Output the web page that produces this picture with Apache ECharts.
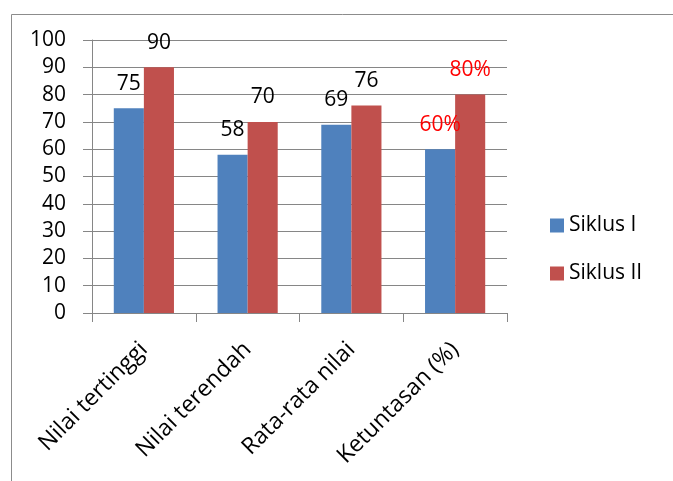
<!DOCTYPE html>
<html><head><meta charset="utf-8">
<script src="https://cdn.jsdelivr.net/npm/echarts@6/dist/echarts.min.js"></script>
<style>html,body{margin:0;padding:0;background:#fff}#c{width:673px;height:481px}</style>
</head><body><div id="c"></div>
<script>
var categories = ['Nilai tertinggi', 'Nilai terendah', 'Rata-rata nilai', 'Ketuntasan (%)'];
var siklus1 = [75, 58, 69, 60];
var siklus2 = [90, 70, 76, 80];
var seriesNames = ['Siklus I', 'Siklus II'];
var yTicks = [0, 10, 20, 30, 40, 50, 60, 70, 80, 90, 100];

var FONT = '"Open Sans", sans-serif';
function labelFor() {
  return {
    show: true, position: 'top', distance: 14, color: '#000',
    fontFamily: FONT, fontSize: 21,
    formatter: function (p) { return p.dataIndex === 3 ? p.value + '%' : '' + p.value; }
  };
}
function makeData(arr) {
  return arr.map(function (v, i) {
    var d = { value: v };
    if (i === 3) d.label = { color: '#ff0000' };
    return d;
  });
}
var chart = echarts.init(document.getElementById('c'), null, { renderer: 'canvas' });
chart.setOption({
  animation: false,
  backgroundColor: '#fff',
  graphic: [{
    type: 'rect', left: 9, top: 12,
    shape: { width: 700, height: 500 },
    style: { fill: 'none', stroke: '#8c8c8c', lineWidth: 1 }, z: -1
  }],
  grid: { left: 92, top: 40, right: 166, bottom: 168 },
  legend: {
    orient: 'vertical', left: 545, top: 210, itemGap: 27,
    itemWidth: 14, itemHeight: 14, icon: 'rect',
    textStyle: { fontFamily: FONT, fontSize: 21, color: '#000' },
    data: seriesNames
  },
  xAxis: {
    type: 'category', data: categories,
    axisLine: { lineStyle: { color: '#868686', width: 1 } },
    axisTick: { show: true, length: 9, lineStyle: { color: '#868686' } },
    axisLabel: { rotate: 45, interval: 0, margin: 33, fontFamily: FONT, fontSize: 23, color: '#000' }
  },
  yAxis: {
    type: 'value', min: yTicks[0], max: yTicks[yTicks.length - 1], interval: 10,
    axisLine: { show: true, lineStyle: { color: '#868686', width: 1 } },
    axisTick: { show: true, length: 9, lineStyle: { color: '#868686' } },
    splitLine: { lineStyle: { color: '#868686', width: 1 } },
    axisLabel: { margin: 26, fontFamily: FONT, fontSize: 21, color: '#000' }
  },
  series: [
    { name: seriesNames[0], type: 'bar', data: makeData(siklus1), barGap: '0%', barCategoryGap: '42%',
      itemStyle: { color: '#4F81BD' }, label: labelFor() },
    { name: seriesNames[1], type: 'bar', data: makeData(siklus2), barGap: '0%', barCategoryGap: '42%',
      itemStyle: { color: '#C0504D' }, label: labelFor() }
  ]
});
</script></body></html>
